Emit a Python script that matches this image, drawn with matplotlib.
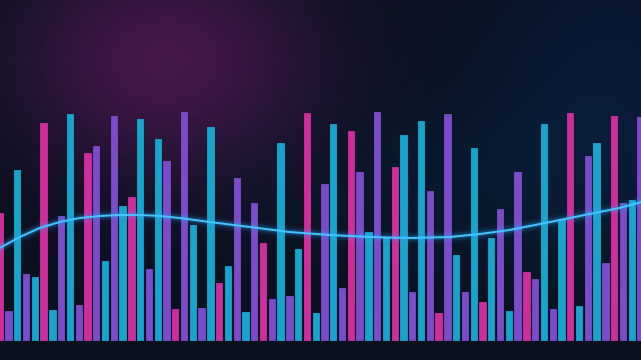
import matplotlib
matplotlib.use("Agg")
import matplotlib.pyplot as plt
import numpy as np

# bar heights (pixels above the base line), left to right
heights = [127, 29, 170, 66, 63, 217, 30, 124, 226, 35,
           187, 194, 79, 224, 134, 143, 221, 71, 201, 179,
           31, 228, 115, 32, 213, 57, 74, 162, 28, 137,
           97, 41, 197, 44, 91, 227, 27, 156, 216, 52,
           209, 168, 108, 228, 103, 173, 205, 48, 219, 149,
           27, 226, 85, 48, 192, 38, 102, 131, 29, 168,
           68, 61, 216, 31, 121, 227, 34, 184, 197, 77,
           224, 137, 140, 223]

# colour cycle of the bars (repeats every 10 bars)
palette = {"P": "#cf2d9c", "V": "#7b4bca", "C": "#16a5cc"}
pattern = ["P", "V", "C", "V", "C", "P", "C", "V", "C", "V"]
bar_colors = [palette[pattern[i % 10]] for i in range(len(heights))]

# glowing wave on top of the bars (x in bar units, y in pixels)
wave_x = [0, 2.28, 4.56, 6.84, 9.11, 11.39, 13.67, 15.95, 18.23, 20.5,
          23.9, 28.5, 33.0, 37.6, 42.2, 46.7, 51.3, 54.7, 58.1, 62.7,
          67.2, 70.6, 73.1]
wave_y = [92, 103, 112, 118, 122, 124, 125, 125, 124, 122,
          118, 113, 108, 105, 103, 102, 103, 106, 110, 118,
          126, 132, 138]

x = np.arange(len(heights))
x0, x1 = 0.03, 0.03 + 641 / 8.777
y0, y1 = -20, 340

fig = plt.figure(figsize=(6.41, 3.60), dpi=100)
ax = fig.add_axes([0, 0, 1, 1])
ax.set_xlim(x0, x1)
ax.set_ylim(y0, y1)
ax.axis("off")

# background: dark navy with a purple glow top-left and a faint blue glow right
W, H = 641, 360
gx, gy = np.meshgrid(np.arange(W), np.arange(H))
bg = np.zeros((H, W, 3))
bg[:] = np.array([9, 17, 31]) / 255.0
def glow(cx, cy, rx, ry, col):
    d = ((gx - cx) / rx) ** 2 + ((gy - cy) / ry) ** 2
    return np.exp(-d)[..., None] * np.array(col)[None, None, :] / 255.0
bg += glow(165, 60, 150, 115, [60, 6, 44])
bg += glow(610, 80, 130, 140, [0, 9, 24])
bg += glow(500, 190, 200, 90, [0, 8, 12])
bg = np.clip(bg, 0, 1)
ax.imshow(bg, extent=(x0, x1, y0, y1), aspect="auto", zorder=0, origin="upper")

ax.bar(x, heights, width=0.72, bottom=0, color=bar_colors,
       edgecolor=bar_colors, linewidth=0.6, joinstyle="round", zorder=2)

for lw, a in [(9, 0.05), (6, 0.1), (3.5, 0.2)]:
    ax.plot(wave_x, wave_y, color="#2aa8ff", lw=lw, alpha=a, zorder=3,
            solid_capstyle="round")
ax.plot(wave_x, wave_y, color="#45c4ff", lw=1.4, zorder=4)

fig.savefig("out.png", dpi=100, facecolor="#0a1322")
